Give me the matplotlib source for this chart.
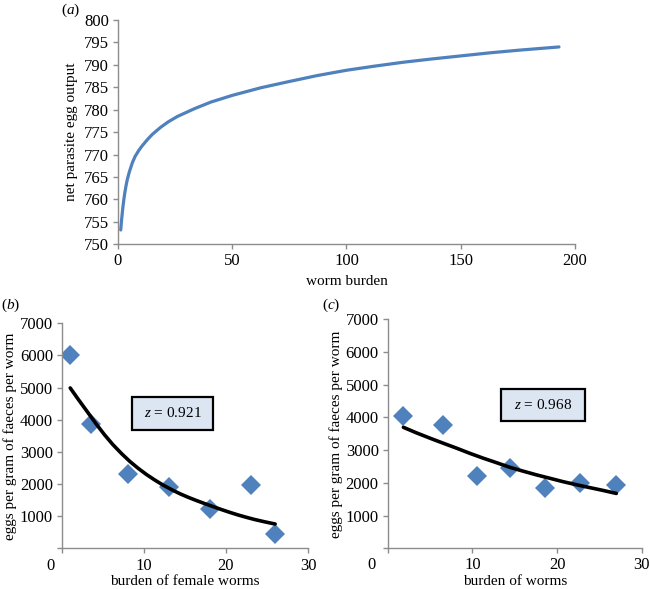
import matplotlib
matplotlib.use("Agg")
import matplotlib.pyplot as plt
import matplotlib.transforms as mtransforms
from matplotlib.patches import Rectangle

plt.rcParams['font.family'] = ['Liberation Serif', 'DejaVu Serif']
plt.rcParams['mathtext.fontset'] = 'custom'
plt.rcParams['mathtext.rm'] = 'Liberation Serif'
plt.rcParams['mathtext.it'] = 'Liberation Serif:italic'

# (a) net egg output against worm burden
burden_a = [1.2, 1.5, 1.9, 2.2, 2.6, 3.0, 3.5, 4.1, 5.0, 6.3, 7.5, 9.2, 10.5,
            12.8, 15, 18.7, 22, 26, 33.3, 40.6, 50, 62.5, 75, 87, 100, 112,
            125, 137, 150, 163, 176, 193]
egg_out_a = [753.2, 755.0, 757.1, 758.5, 760.1, 761.5, 763.0, 764.5, 766.2,
             768.2, 769.6, 771.0, 771.9, 773.3, 774.5, 776.1, 777.3, 778.5,
             780.2, 781.7, 783.2, 784.9, 786.3, 787.6, 788.8, 789.7, 790.6,
             791.3, 792.0, 792.7, 793.3, 794.0]

# (b) female worm burden
female_x = [1, 3.5, 8, 13, 18, 23, 26]
female_y = [6000, 3870, 2330, 1910, 1240, 1960, 460]
fit_b_x = [1.0, 2.0, 3.2, 4.2, 5.2, 6.2, 7.3, 8.3, 9.3, 10.3, 11.3, 12.3,
           13.4, 14.4, 15.4, 16.4, 17.4, 18.5, 19.5, 20.5, 21.5, 22.5, 23.5,
           24.7, 26.0]
fit_b_y = [4990, 4630, 4210, 3860, 3530, 3230, 2940, 2700, 2490, 2300, 2130,
           1975, 1825, 1700, 1590, 1490, 1395, 1295, 1205, 1120, 1040, 968,
           900, 830, 760]

# (c) total worm burden
worms_x = [1.85, 6.5, 10.5, 14.5, 18.6, 22.7, 27.0]
worms_y = [4050, 3770, 2210, 2450, 1860, 1990, 1930]
fit_c_x = [1.85, 3.4, 5.0, 6.6, 8.15, 9.7, 11.3, 12.9, 14.4, 16.0, 17.6,
           19.2, 20.7, 22.3, 23.9, 25.5, 27.0]
fit_c_y = [3700, 3530, 3367, 3210, 3061, 2905, 2755, 2615, 2480, 2360, 2245,
           2140, 2040, 1945, 1856, 1768, 1680]

blue = '#4f81bd'
grey = '#8c8c8c'

fig = plt.figure(figsize=(6.5, 5.89), dpi=100)
ax_a = fig.add_axes([0.1815, 0.5852, 0.7031, 0.3808])
ax_b = fig.add_axes([0.0954, 0.0688, 0.3784, 0.3823])
ax_c = fig.add_axes([0.5965, 0.0689, 0.3907, 0.3890])


def style(ax, fs):
    for s in ['top', 'right']:
        ax.spines[s].set_visible(False)
    for s in ['left', 'bottom']:
        ax.spines[s].set_color(grey)
        ax.spines[s].set_linewidth(1.0)
    ax.tick_params(direction='out', length=3.5, width=1.0, color=grey,
                   labelsize=fs, pad=3)


# panel a
ax_a.plot(burden_a, egg_out_a, color=blue, lw=2.3, solid_capstyle='round',
          solid_joinstyle='round')
ax_a.set_xlim(0, 200)
ax_a.set_ylim(750, 800)
ax_a.set_xticks([0, 50, 100, 150, 200])
ax_a.set_yticks(range(750, 801, 5))
style(ax_a, 12)
ax_a.set_xlabel('worm burden', fontsize=11, labelpad=4)
ax_a.set_ylabel('net parasite egg output', fontsize=11, labelpad=4)
fig.text(0.108, 0.983, '($\\it{a}$)', fontsize=11, ha='center', va='center')

# panels b and c
panels = [(ax_b, female_x, female_y, fit_b_x, fit_b_y, 'burden of female worms',
           [0.283, 0.526, 0.332, 0.148], '0.921', -12),
          (ax_c, worms_x, worms_y, fit_c_x, fit_c_y, 'burden of worms',
           [0.446, 0.557, 0.331, 0.139], '0.968', -16)]
for ax, px, py, fx, fy, xlab, box, zval, shift in panels:
    ax.plot(px, py, 'D', color=blue, markersize=10.5, markeredgewidth=0, zorder=2)
    ax.plot(fx, fy, color='black', lw=2.6, solid_capstyle='round',
            solid_joinstyle='round', zorder=3)
    ax.set_xlim(0, 30)
    ax.set_ylim(0, 7000)
    ax.set_xticks([0, 10, 20, 30])
    ax.set_yticks(range(0, 7001, 1000))
    ax.set_yticklabels([''] + [str(v) for v in range(1000, 7001, 1000)])
    style(ax, 12)
    ax.set_xlabel(xlab, fontsize=11, labelpad=1)
    ax.set_ylabel('eggs per gram of faeces per worm', fontsize=11, labelpad=2)
    lbl = ax.get_xticklabels()[0]
    lbl.set_transform(lbl.get_transform() +
                      mtransforms.ScaledTranslation(shift / 100, 0, fig.dpi_scale_trans))
    ax.add_patch(Rectangle((box[0], box[1]), box[2], box[3], transform=ax.transAxes,
                           facecolor='#dce6f2', edgecolor='black', lw=1.6, zorder=4))
    ax.text(box[0] + box[2] / 2, box[1] + box[3] / 2, '$z$ = ' + zval,
            transform=ax.transAxes, ha='center', va='center', fontsize=11, zorder=5)

fig.text(0.002, 0.481, '($\\it{b}$)', fontsize=11, ha='left', va='center')
fig.text(0.496, 0.481, '($\\it{c}$)', fontsize=11, ha='left', va='center')

fig.savefig('out.png', dpi=100)
